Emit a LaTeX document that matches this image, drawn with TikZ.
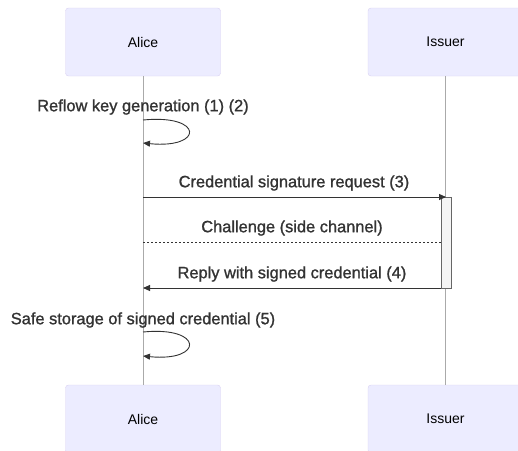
\documentclass[tikz,border=0pt]{standalone}
\usepackage{fontspec}
\setmainfont{Liberation Sans}
\newfontfamily\msgfont[FakeBold=1.2]{Liberation Sans}
\usetikzlibrary{arrows.meta}

\definecolor{actorfill}{HTML}{ECECFF}
\definecolor{actorline}{HTML}{D9D0F2}
\definecolor{msgline}{HTML}{333333}
\definecolor{lifeline}{HTML}{AAAAAA}
\definecolor{actfill}{HTML}{F4F4F4}

\tikzset{
  actor/.style={draw=actorline, fill=actorfill, rounded corners=3pt,
    minimum width=155pt, minimum height=68pt, inner sep=0pt,
    font=\fontsize{14}{16}\selectfont},
  msgtext/.style={text=msgline, inner sep=0pt, font=\msgfont\fontsize{16.4}{18}\selectfont},
  msg/.style={draw=msgline, line width=0.9pt, -{Triangle[length=7pt,width=6pt]}},
  reply/.style={msg, dash pattern=on 2pt off 2pt, -},
  life/.style={draw=lifeline, line width=0.6pt}
}

\begin{document}
\begin{tikzpicture}[x=1pt, y=-1pt]
  \useasboundingbox (0,0) rectangle (518,450);
  % Actors
  \node[actor] (alice) at (143,42) {Alice};
  \node[actor] (issuer) at (445.5,42) {Issuer};
  \node[actor] (aliceEnd) at (143,419) {Alice};
  \node[actor] (issuerEnd) at (445.5,419) {Issuer};
  % Lifelines
  \draw[life] (alice.south) -- (aliceEnd.north);
  \draw[life] (issuer.south) -- (issuerEnd.north);
  % Activation
  \node[draw=black!60, fill=actfill, minimum width=10pt, minimum height=91pt,
    inner sep=0pt, anchor=north] (act) at (446,197) {};
  % Points on the lifelines
  \coordinate (k1) at (143,120);
  \coordinate (k2) at (143,143);
  \coordinate (r1) at (143,197);
  \coordinate (c1) at (143,242);
  \coordinate (p1) at (143,288);
  \coordinate (s1) at (143,332);
  \coordinate (s2) at (143,356);
  % Key generation
  \node[msgtext] (keygen) at (143,107) {Reflow key generation (1) (2)};
  \draw[msg] (k1) .. controls (204,114) and (204,149) .. (k2);
  % Request
  \node[msgtext] (request) at (294,183) {Credential signature request (3)};
  \draw[msg] (r1) -- (r1 -| act.north);
  % Challenge
  \node[msgtext] (challenge) at (292,228) {Challenge (side channel)};
  \draw[reply] (c1 -| act.west) -- (c1);
  % Reply
  \node[msgtext] (replytext) at (292,274) {Reply with signed credential (4)};
  \draw[msg] (p1 -| act.west) -- (p1);
  % Storage
  \node[msgtext] (storage) at (143,320) {Safe storage of signed credential (5)};
  \draw[msg] (s1) .. controls (204,326) and (204,362) .. (s2);
\end{tikzpicture}
\end{document}
